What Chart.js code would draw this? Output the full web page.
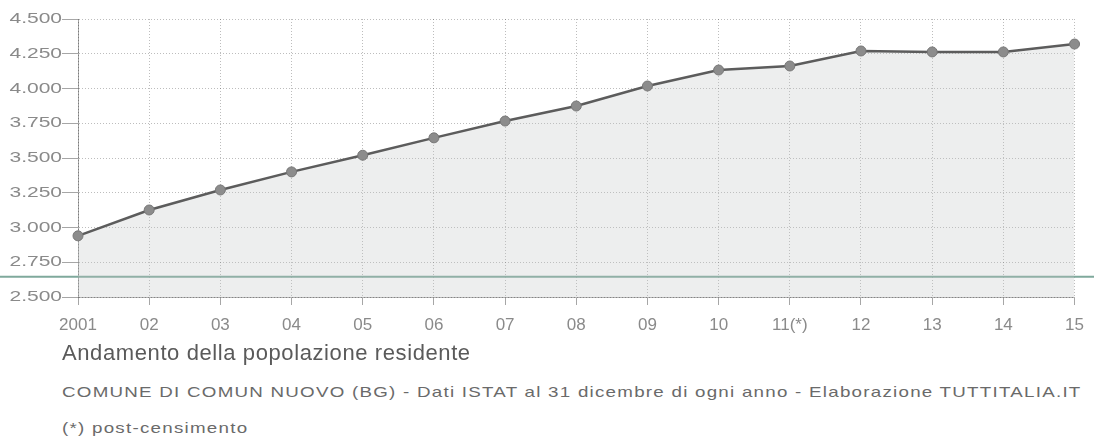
<!DOCTYPE html>
<html>
<head>
<meta charset="utf-8">
<script src="https://cdn.jsdelivr.net/npm/chart.js@4"></script>
<style>
  html, body { margin: 0; padding: 0; background: #fff; }
  body { width: 1094px; height: 445px; position: relative; overflow: hidden;
         font-family: "Liberation Sans", Arial, sans-serif; }
  #wrap { position: absolute; left: 0; top: 0; width: 1094px; height: 345px; }
  .txt { position: absolute; left: 62px; color: #6a6a6a; white-space: nowrap;
         transform-origin: 0 0; }
  #title { top: 340px; font-size: 22px; letter-spacing: 0.6px; color: #5a5a5a; }
  #sub { top: 383px; font-size: 15px; letter-spacing: 1px; transform: scaleX(1.25); }
  #note { top: 419px; font-size: 15px; letter-spacing: 1px; transform: scaleX(1.25); }
</style>
</head>
<body>
<div id="wrap"><canvas id="chart"></canvas></div>
<div class="txt" id="title">Andamento della popolazione residente</div>
<div class="txt" id="sub">COMUNE DI COMUN NUOVO (BG) - Dati ISTAT al 31 dicembre di ogni anno - Elaborazione TUTTITALIA.IT</div>
<div class="txt" id="note">(*) post-censimento</div>
<script>
// anni (etichette asse x)
const anni = ['2001', '02', '03', '04', '05', '06', '07', '08', '09', '10', '11(*)', '12', '13', '14', '15'];
// popolazione residente al 31 dicembre
const popolazione = [2940, 3126, 3270, 3400, 3520, 3645, 3766, 3874, 4018, 4133, 4162, 4270, 4263, 4263, 4320];
// asse y
const yMin = 2500;
const yMax = 4500;
const yStep = 250;
// linea verde orizzontale (livello)
const lineaVerde = 2645;

const grigio = '#8a8a8a';

// formato italiano con punto per le migliaia
function fmt(v) {
  return String(v).replace(/\B(?=(\d{3})+(?!\d))/g, '.');
}

const greenLine = {
  id: 'greenLine',
  beforeDatasetsDraw(chart) {
    const y = chart.scales.y.getPixelForValue(lineaVerde);
    const c = chart.ctx;
    c.save();
    c.strokeStyle = '#7fa99c';
    c.lineWidth = 2;
    c.beginPath();
    c.moveTo(0, y);
    c.lineTo(chart.width, y);
    c.stroke();
    c.restore();
  }
};

// etichette asse y allargate come nell'originale (scansione)
const wideY = {
  id: 'wideY',
  beforeDraw(chart) {
    const s = chart.scales.y;
    if (s._wide) return;
    const orig = s.drawLabels;
    s.drawLabels = function (area) {
      const c = this.ctx;
      const x0 = this.right - this.options.grid.tickLength;
      c.save();
      c.translate(x0, 0);
      c.scale(1.4, 1);
      c.translate(-x0, 0);
      orig.call(this, area);
      c.restore();
    };
    s._wide = true;
  }
};

new Chart(document.getElementById('chart'), {
  type: 'line',
  data: {
    labels: anni,
    datasets: [{
      data: popolazione,
      borderColor: '#5c5c5c',
      borderWidth: 2.5,
      backgroundColor: 'rgba(190, 195, 195, 0.28)',
      fill: 'start',
      tension: 0,
      pointRadius: 5,
      pointBackgroundColor: '#8c8c8c',
      pointBorderColor: '#777',
      pointBorderWidth: 1,
      clip: false
    }]
  },
  options: {
    responsive: true,
    maintainAspectRatio: false,
    animation: false,
    layout: { padding: { top: 19, right: 15, left: 0, bottom: 0 } },
    plugins: {
      legend: { display: false },
      tooltip: { enabled: false }
    },
    scales: {
      x: {
        offset: false,
        afterFit(s) { s.height = 48; },
        grid: {
          color: 'rgba(0,0,0,0.26)',
          tickLength: 8,
          tickColor: 'rgba(0,0,0,0.35)'
        },
        border: { display: true, color: 'rgba(0,0,0,0.3)', dash: [1, 2] },
        ticks: {
          color: grigio,
          padding: 10,
          maxRotation: 0,
          autoSkip: false,
          font: { family: '"Liberation Sans", Arial, sans-serif', size: 17 }
        }
      },
      y: {
        min: yMin,
        max: yMax,
        afterFit(s) { s.width = 78; },
        grid: {
          color: 'rgba(0,0,0,0.26)',
          tickLength: 16,
          tickColor: 'rgba(0,0,0,0.35)'
        },
        border: { display: true, color: 'rgba(0,0,0,0.35)', dash: [1, 2] },
        ticks: {
          stepSize: yStep,
          color: grigio,
          padding: 0,
          callback: v => fmt(v),
          font: { family: '"Liberation Sans", Arial, sans-serif', size: 15 }
        }
      }
    }
  },
  plugins: [greenLine, wideY, {
    id: 'dottedGrid',
    beforeDraw(chart) {
      chart.options.scales.x.grid.borderDash = [1, 2];
    }
  }]
});
</script>
</body>
</html>
